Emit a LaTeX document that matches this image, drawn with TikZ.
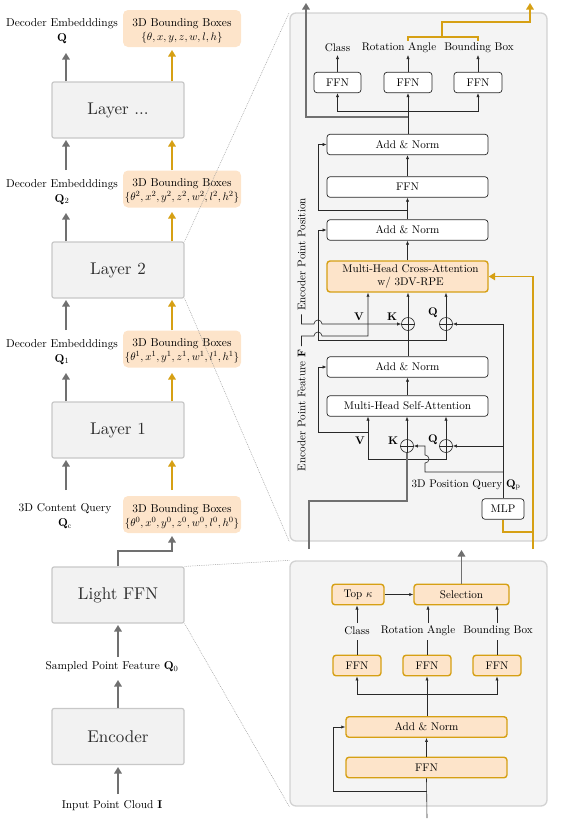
\documentclass[tikz,border=0pt]{standalone}
\usepackage{amsmath}
\usepackage{fontspec}
\setmainfont{lmroman10-regular.otf}[BoldFont=lmroman10-bold.otf, ItalicFont=lmroman10-italic.otf, BoldItalicFont=lmroman10-bolditalic.otf]
\usetikzlibrary{arrows.meta}
\definecolor{goldc}{RGB}{214,160,20}
\definecolor{peach}{RGB}{253,228,202}
\definecolor{agray}{RGB}{112,112,112}
\definecolor{bfill}{RGB}{242,242,242}
\definecolor{bdraw}{RGB}{200,200,200}
\definecolor{pfill}{RGB}{244,244,244}
\definecolor{pdraw}{RGB}{210,210,210}
\definecolor{dline}{RGB}{40,40,40}
\definecolor{txt}{RGB}{45,45,45}
\begin{document}
\begin{tikzpicture}[x=1pt,y=-1pt,
  font=\fontsize{11.4}{15}\selectfont,
  bigbox/.style={draw=bdraw, fill=bfill, line width=1.2pt, rounded corners=2pt, minimum width=132pt, minimum height=56pt, inner sep=0pt, font=\fontsize{17}{20}\selectfont, text=txt},
  bbox/.style={fill=peach, rounded corners=5pt, minimum width=118pt, minimum height=37pt, inner sep=0pt},
  lbl/.style={align=center, inner sep=1pt},
  garrow/.style={draw=agray, line width=1.6pt, -{Triangle[length=6.5pt,width=7.5pt]}},
  goarrow/.style={draw=goldc, line width=1.6pt, -{Triangle[length=6.5pt,width=7.5pt]}},
  panel/.style={draw=pdraw, fill=pfill, line width=1.3pt, rounded corners=6pt, inner sep=0pt},
  zoomline/.style={draw=gray!80, line width=0.5pt, dash pattern=on 0.8pt off 1pt},
  pfont/.style={font=\fontsize{11.1}{12.5}\selectfont},
  wbox/.style={pfont, draw=dline, fill=white, line width=0.7pt, rounded corners=3pt, inner sep=0pt, minimum height=20.5pt},
  obox/.style={pfont, draw=goldc, fill=peach, line width=1.4pt, rounded corners=3pt, inner sep=0pt, minimum height=20.5pt},
  tline/.style={draw=dline, line width=0.6pt},
  tarrow/.style={tline, -{Latex[length=4pt,width=3.2pt]}},
  oplus/.style={circle, draw=dline, line width=0.6pt, minimum size=13pt, inner sep=0pt}
]
\useasboundingbox (0,0) rectangle (562,820);

% helper x positions
\coordinate (gx) at (66,0);
\coordinate (ox) at (172,0);
\coordinate (rx) at (318,0);
\coordinate (vx) at (368,0);
\coordinate (px) at (503,0);
\coordinate (rxb) at (333,0);

% panels
\node[panel, minimum width=257pt, minimum height=528pt] (panelT) at (418.5,277) {};
\node[panel, minimum width=257pt, minimum height=245pt] (panelB) at (418.5,683.5) {};

% left column boxes
\node[bigbox] (layerN) at (118,110) {Layer ...};
\node[bigbox] (layer2) at (118,270) {Layer 2};
\node[bigbox] (layer1) at (118,430) {Layer 1};
\node[bigbox] (lffn) at (118,595) {Light FFN};
\node[bigbox] (enc) at (118,736.5) {Encoder};

\node[bbox] (bbT) at (182,28.5) {};
\node[bbox] (bb2) at (182,189) {};
\node[bbox] (bb1) at (182,349) {};
\node[bbox] (bb0) at (182,514.5) {};
\node[lbl] (bbTt) at (182,30.5) {3D Bounding Boxes\\[-1pt]$\{\theta, x, y, z, w, l, h\}$};
\node[lbl] (bb2t) at (182,191) {3D Bounding Boxes\\[-1pt]$\{\theta^2, x^2, y^2, z^2, w^2, l^2, h^2\}$};
\node[lbl] (bb1t) at (182,351) {3D Bounding Boxes\\[-1pt]$\{\theta^1, x^1, y^1, z^1, w^1, l^1, h^1\}$};
\node[lbl] (bb0t) at (182,516.5) {3D Bounding Boxes\\[-1pt]$\{\theta^0, x^0, y^0, z^0, w^0, l^0, h^0\}$};

\node[lbl] (qT) at (62,31) {Decoder Embedddings\\$\mathbf{Q}$};
\node[lbl] (q2) at (62,192) {Decoder Embedddings\\$\mathbf{Q}_2$};
\node[lbl] (q1) at (62,352) {Decoder Embedddings\\$\mathbf{Q}_1$};
\node[lbl] (qcl) at (65,516) {3D Content Query\\$\mathbf{Q}_\mathrm{c}$};
\node[lbl] (q0) at (112,667) {Sampled Point Feature $\mathbf{Q}_0$};
\node[lbl] (inp) at (112,806) {Input Point Cloud $\mathbf{I}$};

% left arrows
\draw[garrow] (gx |- layerN.north) -- (66,53);
\draw[goarrow] (ox |- layerN.north) -- (172,50);
\draw[garrow] (66,170) -- (66,140);
\draw[goarrow] (ox |- bb2.north) -- (172,140);
\draw[garrow] (gx |- layer2.north) -- (66,213);
\draw[goarrow] (ox |- layer2.north) -- (172,212);
\draw[garrow] (66,330) -- (66,300);
\draw[goarrow] (ox |- bb1.north) -- (172,300);
\draw[garrow] (gx |- layer1.north) -- (66,373);
\draw[goarrow] (ox |- layer1.north) -- (172,373);
\draw[garrow] (66,490) -- (66,460);
\draw[goarrow] (172,490) -- (172,460);
\draw[garrow] (lffn.north) -- (118,551) -- (172,551) -- (172,536);
\draw[garrow] (118,657) -- (118,625);
\draw[garrow] (enc.north) -- (118,680);
\draw[garrow] (118,794) -- (118,767);

% zoom lines
\draw[zoomline] (layer2.north east) -- (panelT.north west);
\draw[zoomline] (layer2.south east) -- (panelT.south west);
\draw[zoomline] (lffn.north east) -- (panelB.north west);
\draw[zoomline] (lffn.south east) -- (panelB.south west);

% ===== top panel =====
\node[wbox, minimum width=47pt] (f1) at (337.5,82.5) {FFN};
\node[wbox, minimum width=48pt] (f2) at (408,82.5) {FFN};
\node[wbox, minimum width=48pt] (f3) at (478,82.5) {FFN};
\node[pfont] (lc) at (337.5,48) {Class};
\node[pfont] (lr) at (399,48) {Rotation Angle};
\node[pfont] (lb) at (479,48) {Bounding Box};
\draw[tarrow] (f1.north) -- (337.5,55);
\draw[tarrow] (f2.north) -- (408,55);
\draw[tarrow] (f3.north) -- (478,55);

\node[wbox, minimum width=161pt] (an3) at (407.5,144.5) {Add \& Norm};
\node[wbox, minimum width=161pt] (ffnT) at (407.5,187) {FFN};
\node[wbox, minimum width=161pt] (an2) at (407.5,230) {Add \& Norm};
\node[obox, minimum width=161pt, minimum height=31pt, align=center] (cross) at (407.5,276.5) {\hspace*{6pt}Multi-Head Cross-Attention\\\hspace*{6pt}w/ 3DV-RPE};
\node[wbox, minimum width=161pt] (an1) at (407.5,367) {Add \& Norm};
\node[wbox, minimum width=161pt] (selfa) at (407.5,406) {Multi-Head Self-Attention};
\node[wbox, minimum width=42pt] (mlp) at (503,509) {MLP};

\coordinate (b1) at (408,111);
\draw[tarrow] (f2.south |- an3.north) -- (f2.south);
\draw[tarrow] (b1) -| (f1.south);
\draw[tarrow] (b1) -| (f3.south);
\draw[garrow] (408,117) -- (306,117) -- (306,3);
\draw[goldc, line width=1.6pt] (408,40.5) -- (408,37) -- (478,37) -- (478,40.5);
\draw[goarrow] (442,37) -- (442,22) -- (530,22) -- (530,3);

\draw[tarrow] (ffnT.north) -- (an3.south);
\draw[tarrow] (an2.north) -- (ffnT.south);
\draw[tarrow] (cross.north) -- (an2.south);
\draw[tarrow] (408,210) -| (rx |- an3.west) -- (an3.west);

\node[oplus] (kc) at (408,324) {};
\node[oplus] (qc) at (446,324) {};
\draw[tline] (kc.north) -- (kc.south) (kc.east) -- (kc.west);
\draw[tline] (qc.north) -- (qc.south) (qc.east) -- (qc.west);
\draw[tarrow] (kc.north) -- (kc.north |- cross.south);
\draw[tarrow] (qc.north) -- (qc.north |- cross.south);

\node[pfont, rotate=90] (epp) at (301.5,254.5) {Encoder Point Position};
\node[pfont, rotate=90] (epf) at (301.5,410.5) {Encoder Point Feature $\mathbf{F}$};

\draw[tarrow] (408,340) -| (rx |- an2.west) -- (an2.west);
\draw[tline] (kc.south |- an1.north) -- (kc.south);
\draw[tline] (408,340) -| (qc.south);
\draw[tarrow] (epp.west) |- (314,324) arc[start angle=180, end angle=0, radius=4pt] -- (kc.west);
\draw[tarrow] (epf.east) |- (314,336) arc[start angle=180, end angle=0, radius=4pt] -| (vx |- cross.south);

\node[pfont] (vl1) at (359,317) {$\mathbf{V}$};
\node[pfont] (kl1) at (392,317) {$\mathbf{K}$};
\node[pfont] (ql1) at (433,313) {$\mathbf{Q}$};

% self-attention part
\draw[tarrow] (selfa.north) -- (an1.south);
\node[oplus] (ks) at (407,446) {};
\node[oplus] (qs) at (446,446) {};
\draw[tline] (ks.north) -- (ks.south) (ks.east) -- (ks.west);
\draw[tline] (qs.north) -- (qs.south) (qs.east) -- (qs.west);
\draw[tarrow] (ks.north) -- (ks.north |- selfa.south);
\draw[tarrow] (qs.north) -- (qs.north |- selfa.south);
\draw[tarrow] (368,459) -- (vx |- selfa.south);
\draw[tline] (368,459) -| (qs.south);
\draw[tarrow] (368,432) -| (rx |- an1.west) -- (an1.west);
\draw[draw=agray, line width=1.5pt] (309,549) |- (407,501) -- (ks.south);

\node[pfont] (vl2) at (360,441) {$\mathbf{V}$};
\node[pfont] (kl2) at (393,441) {$\mathbf{K}$};
\node[pfont] (ql2) at (433,440) {$\mathbf{Q}$};

\node[pfont] (qpl) at (466,485) {3D Position Query $\mathbf{Q}_\mathrm{p}$};
\draw[tarrow] (mlp.north) |- (qc.east);
\draw[tarrow] (px |- qs.east) -- (qs.east);
\draw[tarrow] (503,472) -- (425,472) -- (425,463) arc[start angle=-90, end angle=90, radius=4pt] -- (425,446) -- (ks.east);

\draw[goarrow, line width=1.5pt] (533,549) |- (cross.east);
\draw[goldc, line width=1.5pt] (533,532) -| (mlp.south);

% ===== bottom panel =====
\node[obox, minimum width=52pt] (topk) at (358,594.5) {Top $\kappa$};
\node[obox, minimum width=95pt] (sel) at (461.5,594.5) {Selection};
\draw[tarrow] (topk.east) -- (sel.west);
\draw[garrow] (sel.north) -- (461.5,550);

\node[pfont] (lc2) at (357,631) {Class};
\node[pfont] (lr2) at (418,631) {Rotation Angle};
\node[pfont] (lb2) at (498,631) {Bounding Box};

\node[obox, minimum width=48pt] (g1) at (357,665.5) {FFN};
\node[obox, minimum width=48pt] (g2) at (427,665.5) {FFN};
\node[obox, minimum width=48pt] (g3) at (497,665.5) {FFN};

\draw[tarrow] (357,623) -- (357,605.5);
\draw[tarrow] (428,623) -- (428,605.5);
\draw[tarrow] (497,623) -- (497,605.5);
\draw[tline] (g1.north) -- (357,640);
\draw[tline] (g2.north) -- (427,640);
\draw[tline] (g3.north) -- (497,640);

\node[obox, minimum width=161pt] (an0) at (426.5,727) {Add \& Norm};
\node[obox, minimum width=161pt] (ffnB) at (426.5,767.5) {FFN};
\coordinate (b2) at (427,694);
\draw[tarrow] (g2.south |- an0.north) -- (g2.south);
\draw[tarrow] (b2) -| (g1.south);
\draw[tarrow] (b2) -| (g3.south);
\draw[tarrow] (ffnB.north) -- (an0.south);
\draw[tline] (427,818) -- (ffnB.south);
\draw[tarrow] (427,791) -| (rxb |- an0.west) -- (an0.west);

\end{tikzpicture}
\end{document}
